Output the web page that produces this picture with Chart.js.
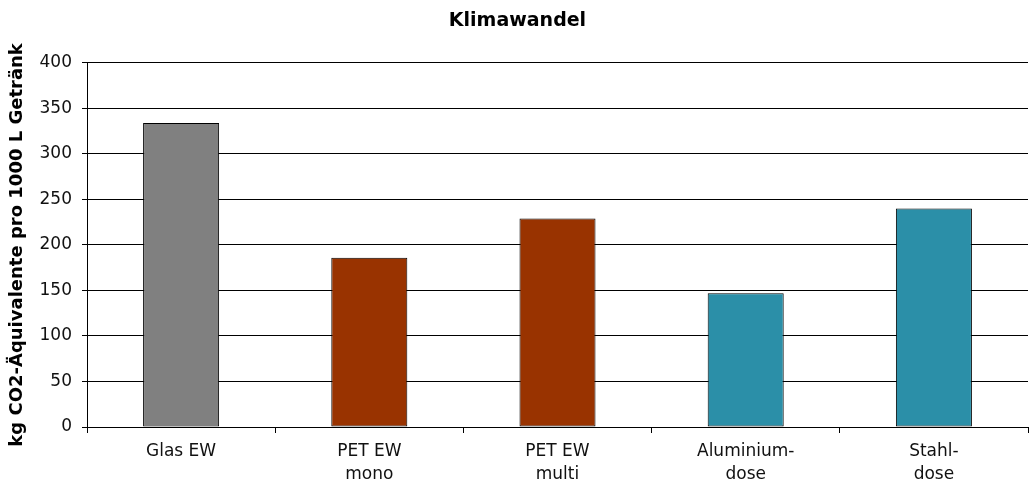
<!DOCTYPE html>
<html>
<head>
<meta charset="utf-8">
<script src="https://cdn.jsdelivr.net/npm/chart.js@4"></script>
<style>
  html, body { margin: 0; padding: 0; background: #fff; }
  #wrap { width: 1030px; height: 486px; }
</style>
</head>
<body>
<div id="wrap"><canvas id="myBar" width="1030" height="486"></canvas></div>
<script>
  const categories = [['Glas EW'], ['PET EW', 'mono'], ['PET EW', 'multi'], ['Aluminium-', 'dose'], ['Stahl-', 'dose']];
  const co2Values = [334, 186, 229, 147, 240];
  const barColors = ['#808080', '#993300', '#993300', '#2b8fa8', '#2b8fa8'];
  const yTicks = [0, 50, 100, 150, 200, 250, 300, 350, 400];

  const ctx2 = document.getElementById('myBar');

  const myBar = new Chart(ctx2, {
    type: 'bar',
    data: {
      labels: categories,
      datasets: [
        {
          data: co2Values,
          backgroundColor: barColors,
          borderColor: '#000',
          borderWidth: 1,
          borderSkipped: false,
          categoryPercentage: 1,
          barPercentage: 0.404,
        },
      ]
    },
    options: {
      responsive: false,
      animation: false,
      layout: { padding: { top: 4, right: 2, left: 7, bottom: 0 } },
      plugins: {
        legend: { display: false },
        tooltip: { enabled: false },
        title: {
          display: true,
          text: 'Klimawandel',
          color: '#000',
          font: { family: 'DejaVu Sans', size: 19, weight: 'bold' },
          padding: { top: 6, bottom: 30 },
        }
      },
      scales: {
        x: {
          grid: {
            display: true,
            drawOnChartArea: false,
            offset: true,
            color: '#000',
            tickLength: 6,
          },
          border: { color: '#000', width: 1 },
          ticks: {
            color: '#111',
            font: { family: 'DejaVu Sans', size: 17, lineHeight: 1.3 },
            maxRotation: 0,
            padding: 8,
          },
          afterFit: (scale) => { scale.height = 59; },
        },
        y: {
          min: 0,
          max: 400,
          afterBuildTicks: (scale) => { scale.ticks = yTicks.map(v => ({ value: v })); },
          grid: {
            color: '#000',
            tickLength: 5,
          },
          border: { color: '#000', width: 1 },
          ticks: {
            color: '#111',
            font: { family: 'DejaVu Sans', size: 17 },
            padding: 10,
          },
          title: {
            display: true,
            text: 'kg CO2-Äquivalente pro 1000 L Getränk',
            color: '#000',
            font: { family: 'DejaVu Sans', size: 18, weight: 'bold' },
            padding: 0,
          },
          afterFit: (scale) => { scale.width = 80; },
        }
      }
    }
  });
</script>
</body>
</html>
